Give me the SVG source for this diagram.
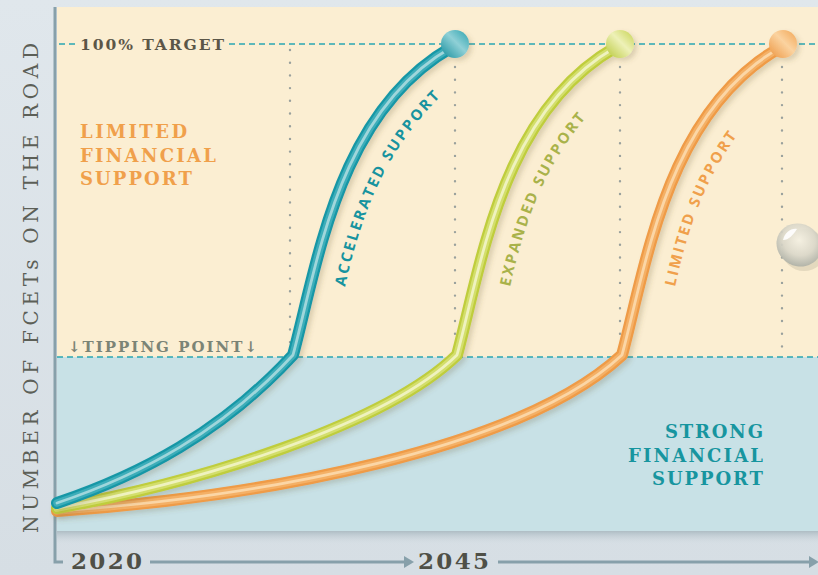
<svg xmlns="http://www.w3.org/2000/svg" width="818" height="575" viewBox="0 0 818 575">
<style>
.serif{font-family:"DejaVu Serif","Liberation Serif",serif;font-weight:bold}
.sans{font-family:"Open Sans","Lato","DejaVu Sans",sans-serif;font-weight:bold;font-size:15px;letter-spacing:2.2px}
.dash{stroke:#2aa6b2;stroke-width:1.6;stroke-dasharray:6 4;fill:none}
.dots{stroke:#9aa19d;stroke-width:2.4;stroke-linecap:round;stroke-dasharray:0 12.7;fill:none}
.c{fill:none;stroke-linecap:round;stroke-linejoin:round}
.w1{stroke-width:12}.w2{stroke-width:7.5}.w3{stroke-width:2.8}
.axis{stroke:#87a0aa;stroke-width:3;fill:none}
</style>
<defs>
<linearGradient id="bg" x1="0" y1="0" x2="0" y2="1"><stop offset="0" stop-color="#e0e7ec"/><stop offset="1" stop-color="#d6dee4"/></linearGradient>
<linearGradient id="shadowBand" x1="0" y1="0" x2="0" y2="1"><stop offset="0" stop-color="#aebdc4"/><stop offset="1" stop-color="#d6dee4" stop-opacity="0"/></linearGradient>
<linearGradient id="gT" x1="0" y1="1" x2="1" y2="0"><stop offset="0" stop-color="#148e9c"/><stop offset="0.55" stop-color="#8fd0d6"/><stop offset="1" stop-color="#2aa2ae"/></linearGradient>
<linearGradient id="gY" x1="0" y1="1" x2="1" y2="0"><stop offset="0" stop-color="#b8c83a"/><stop offset="0.55" stop-color="#eef1b8"/><stop offset="1" stop-color="#c5d24e"/></linearGradient>
<linearGradient id="gO" x1="0" y1="1" x2="1" y2="0"><stop offset="0" stop-color="#ec9540"/><stop offset="0.55" stop-color="#fbd3a0"/><stop offset="1" stop-color="#f1a452"/></linearGradient>
<radialGradient id="drop" cx="0.45" cy="0.4" r="0.65"><stop offset="0" stop-color="#f6f2e4"/><stop offset="0.55" stop-color="#dcd9cb"/><stop offset="1" stop-color="#a7aba2"/></radialGradient>
<filter id="sh" x="-20%" y="-20%" width="140%" height="140%"><feDropShadow dx="3" dy="3" stdDeviation="2.5" flood-color="#6b5a3a" flood-opacity="0.22"/></filter>
<path id="pT" d="M57,503 C140,475 222,432 293,355 C318,262 338,112 452,47"/>
<path id="pY" d="M57,508 C200,482 385,425 457,355 C482,262 502,112 616,47"/>
<path id="pO" d="M57,511 C260,497 520,450 622,355 C647,262 667,112 781,47"/>
<path id="lT" d="M345,287 C361,215 384,150 447,90"/>
<path id="lY" d="M510,287 C526,215 549,150 612,90"/>
<path id="lO" d="M675,287 C691,215 714,150 777,90"/>
</defs>

<g id="background">
<rect x="0" y="0" width="818" height="575" fill="url(#bg)"/>
<rect x="57" y="7" width="761" height="350" fill="#fbeed2"/>
<rect x="57" y="357" width="761" height="174" fill="#c8e1e6"/>
<rect x="57" y="531" width="761" height="14" fill="url(#shadowBand)"/>
</g>

<g id="axes">
<path class="axis" d="M55,7 V562 H63"/>
<path class="axis" d="M150,562 H406"/>
<path d="M404,556 L414,562 L404,568 Z" fill="#87a0aa"/>
<path class="axis" d="M498,562 H812"/>
<path d="M809,556 L819,562 L809,568 Z" fill="#87a0aa"/>
<text class="serif" x="71" y="569" font-size="23" fill="#4f5047" textLength="71">2020</text>
<text class="serif" x="418" y="569" font-size="23" fill="#4f5047" textLength="71">2045</text>
<text transform="translate(38,533) rotate(-90)" x="0" y="0" font-family="DejaVu Serif, Liberation Serif, serif" font-size="20" fill="#5c5f57" textLength="490" lengthAdjust="spacing">NUMBER OF FCETs ON THE ROAD</text>
</g>

<g id="guides">
<path class="dots" d="M290,50 V352"/>
<path class="dots" d="M455,67 V352"/>
<path class="dots" d="M620,67 V352"/>
<path class="dots" d="M782,67 V352"/>
<path class="dash" d="M59,44 H76"/>
<path class="dash" d="M229,44 H818"/>
<path class="dash" d="M57,357 H818"/>
</g>

<g id="zone-labels">
<text class="serif" x="80" y="50" font-size="15.5" fill="#5b5648" textLength="144">100% TARGET</text>
<text class="serif" x="68" y="352" font-size="15" fill="#7b8476" textLength="189">↓TIPPING POINT↓</text>
<g id="limited-financial-support" class="serif" font-size="18" fill="#f0a04b">
<text x="80" y="138" textLength="107">LIMITED</text>
<text x="80" y="162" textLength="136">FINANCIAL</text>
<text x="80" y="185" textLength="112">SUPPORT</text>
</g>
<g id="strong-financial-support" class="serif" font-size="18" fill="#17959f">
<text x="665" y="438" textLength="98">STRONG</text>
<text x="628" y="462" textLength="135">FINANCIAL</text>
<text x="652" y="485" textLength="111">SUPPORT</text>
</g>
</g>

<g id="water-drop">
<ellipse cx="804" cy="250" rx="22" ry="21" fill="#7d7a66" opacity="0.18"/>
<ellipse cx="799" cy="245" rx="23" ry="21" fill="url(#drop)" opacity="0.92" transform="rotate(30 799 245)"/>
<path d="M783,240 C785,232 791,228 797,229 C793,235 789,240 783,240 Z" fill="#ffffff" opacity="0.9"/>
</g>

<g id="connectors">
<g id="curve-limited" filter="url(#sh)">
<use href="#pO" class="c w1" stroke="#ef9b46"/>
<use href="#pO" class="c w2" stroke="#f4b066"/>
<use href="#pO" class="c w3" stroke="#fbd6a6"/>
<circle cx="783" cy="44" r="14" fill="url(#gO)"/>
</g>
<g id="curve-expanded" filter="url(#sh)">
<use href="#pY" class="c w1" stroke="#bfcd3c"/>
<use href="#pY" class="c w2" stroke="#d3de6c"/>
<use href="#pY" class="c w3" stroke="#eff2bf"/>
<circle cx="620" cy="44" r="14" fill="url(#gY)"/>
</g>
<g id="curve-accelerated" filter="url(#sh)">
<use href="#pT" class="c w1" stroke="#1797a6"/>
<use href="#pT" class="c w2" stroke="#3cadb9"/>
<use href="#pT" class="c w3" stroke="#9fd6db"/>
<circle cx="455" cy="44" r="14" fill="url(#gT)"/>
</g>
</g>

<g id="curve-labels">
<text class="sans" fill="#17939f"><textPath href="#lT">ACCELERATED SUPPORT</textPath></text>
<text class="sans" fill="#a9b24a"><textPath href="#lY">EXPANDED SUPPORT</textPath></text>
<text class="sans" fill="#f0a04b"><textPath href="#lO">LIMITED SUPPORT</textPath></text>
</g>
</svg>
